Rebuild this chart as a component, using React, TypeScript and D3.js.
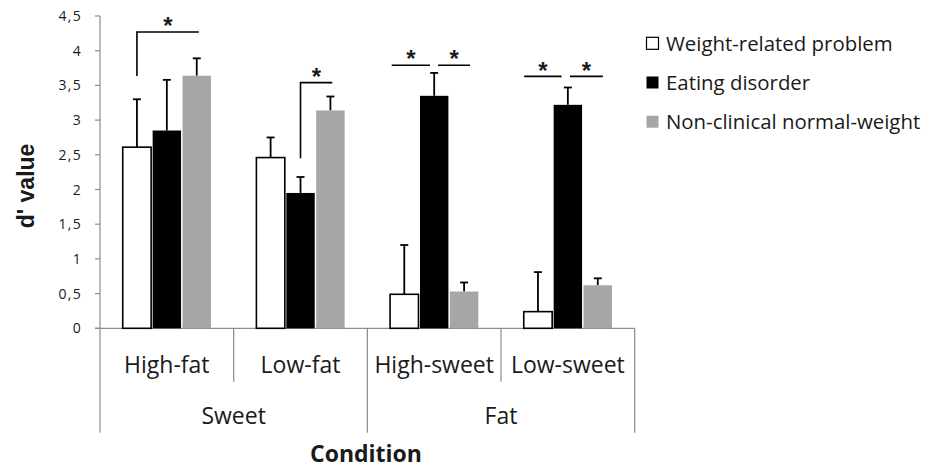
import React from "react";
import * as d3 from "d3";

const categories = ["High-fat", "Low-fat", "High-sweet", "Low-sweet"];
const groupLabels = ["Sweet", "Fat"];
const groupSizes = [2, 2];
const seriesNames = ["Weight-related problem", "Eating disorder", "Non-clinical normal-weight"];
const weightRelated = [2.61, 2.46, 0.49, 0.24];
const weightRelatedErr = [0.69, 0.29, 0.71, 0.57];
const eatingDisorder = [2.85, 1.95, 3.35, 3.22];
const eatingDisorderErr = [0.73, 0.23, 0.33, 0.25];
const nonClinical = [3.64, 3.14, 0.53, 0.62];
const nonClinicalErr = [0.25, 0.2, 0.13, 0.1];
const yTicks = [0, 0.5, 1, 1.5, 2, 2.5, 3, 3.5, 4, 4.5];
const yTickLabels = ["0", "0,5", "1", "1,5", "2", "2,5", "3", "3,5", "4", "4,5"];

// significance brackets: category, from/to (series position), level, drop (value where the left leg ends)
const brackets = [
  { cat: 0, from: 0, to: 2.07, level: 4.27, drop: 3.635 },
  { cat: 1, from: 1, to: 2.06, level: 3.54, drop: 2.45 },
];
// significance lines without legs
const sigLines = [
  { cat: 2, from: -0.42, to: 0.86, level: 3.79 },
  { cat: 2, from: 1.13, to: 2.2, level: 3.79 },
  { cat: 3, from: -0.46, to: 0.79, level: 3.63 },
  { cat: 3, from: 1.07, to: 2.17, level: 3.63 },
];

const W = 936;
const H = 471;
const fills = ["#ffffff", "#000000", "#a6a6a6"];
const axisColor = "#8c8c8c";
const textColor = "#1a1a1a";
const sansFont = "'Open Sans', Lato, sans-serif";

export default function App() {
  const values = [weightRelated, eatingDisorder, nonClinical];
  const errs = [weightRelatedErr, eatingDisorderErr, nonClinicalErr];

  const y = d3.scaleLinear().domain([0, 4.5]).range([328.3, 16]);
  const x = d3.scaleBand<string>().domain(categories).range([100, 634.7]).padding(0);
  const cw = x.bandwidth();
  const sub = d3
    .scaleBand<number>()
    .domain([0, 1, 2])
    .range([cw * 0.17, cw * 0.83])
    .paddingInner(0.05);
  const bw = sub.bandwidth();
  const step = sub.step();
  const posX = (cat: number, s: number) =>
    (x(categories[cat]) as number) + (sub(0) as number) + s * step + bw / 2;

  const y0 = y(0);
  const axisLeft = x.range()[0];
  const axisRight = x.range()[1];

  const groupBounds: { start: number; end: number; label: string }[] = [];
  let idx = 0;
  groupSizes.forEach((n, g) => {
    const start = x(categories[idx]) as number;
    const end = (x(categories[idx + n - 1]) as number) + cw;
    groupBounds.push({ start, end, label: groupLabels[g] });
    idx += n;
  });

  const starSize = 24;
  const star = (cx: number, lineY: number, key: string) => (
    <text
      key={key}
      x={cx}
      y={lineY - 11 + starSize * 0.55}
      textAnchor="middle"
      fontFamily="'Liberation Sans', Arial, sans-serif"
      fontWeight="bold"
      fontSize={starSize}
      fill={textColor}
    >
      *
    </text>
  );

  return (
    <svg
      width={W}
      height={H}
      style={{ position: "fixed", left: 0, top: 0, background: "#fff" }}
      xmlns="http://www.w3.org/2000/svg"
    >
      <rect x={0} y={0} width={W} height={H} fill="#fff" />

      {/* y axis */}
      <line x1={axisLeft} x2={axisLeft} y1={y(4.5)} y2={y0} stroke={axisColor} strokeWidth={1.2} />
      {yTicks.map((t, i) => (
        <g key={"yt" + i}>
          <line x1={axisLeft - 5} x2={axisLeft} y1={y(t)} y2={y(t)} stroke={axisColor} strokeWidth={1.2} />
          <text
            x={82}
            y={y(t)}
            dy="0.36em"
            textAnchor="end"
            fontFamily={sansFont}
            fontSize={14}
            letterSpacing={1.3}
            fill={textColor}
          >
            {yTickLabels[i]}
          </text>
        </g>
      ))}
      <text
        transform={`translate(34, 186) rotate(-90)`}
        textAnchor="middle"
        fontFamily="'Liberation Sans', Arial, sans-serif"
        fontWeight="bold"
        fontSize={23}
        fill={textColor}
      >
        d' value
      </text>

      {/* x axis */}
      <line x1={axisLeft - 5} x2={axisRight} y1={y0} y2={y0} stroke={axisColor} strokeWidth={1.2} />
      {categories.map((c, i) => {
        const cx = x(c) as number;
        return (
          <g key={"cat" + i}>
            {i % 2 === 1 && (
              <line x1={cx} x2={cx} y1={y0} y2={381.7} stroke={axisColor} strokeWidth={1.2} />
            )}
            <text
              x={cx + cw / 2}
              y={373.3}
              textAnchor="middle"
              fontFamily={sansFont}
              fontSize={23}
              fill={textColor}
            >
              {c}
            </text>
          </g>
        );
      })}
      {groupBounds.map((g, i) => (
        <g key={"grp" + i}>
          <line x1={g.start} x2={g.start} y1={y0} y2={432.7} stroke={axisColor} strokeWidth={1.2} />
          {i === groupBounds.length - 1 && (
            <line x1={g.end} x2={g.end} y1={y0} y2={432.7} stroke={axisColor} strokeWidth={1.2} />
          )}
          <text
            x={(g.start + g.end) / 2}
            y={424}
            textAnchor="middle"
            fontFamily={sansFont}
            fontSize={23}
            fill={textColor}
          >
            {g.label}
          </text>
        </g>
      ))}
      <text
        x={366}
        y={462}
        textAnchor="middle"
        fontFamily={sansFont}
        fontWeight="bold"
        fontSize={23}
        fill={textColor}
      >
        Condition
      </text>

      {/* bars */}
      {categories.map((c, ci) =>
        values.map((vals, si) => {
          const bx = (x(c) as number) + (sub(si) as number);
          const v = vals[ci];
          const top = y(v);
          const etop = y(v + errs[si][ci]);
          const cx = bx + bw / 2;
          return (
            <g key={`b${ci}-${si}`}>
              <line x1={cx} x2={cx} y1={top} y2={etop} stroke="#000" strokeWidth={1.8} />
              <line x1={cx - 4} x2={cx + 4} y1={etop} y2={etop} stroke="#000" strokeWidth={1.8} />
              <rect
                x={bx}
                y={top}
                width={bw}
                height={y0 - top}
                fill={fills[si]}
                stroke={si === 0 ? "#000" : "none"}
                strokeWidth={si === 0 ? 1.6 : 0}
              />
            </g>
          );
        })
      )}

      {/* significance */}
      {brackets.map((b, i) => {
        const x1 = posX(b.cat, b.from);
        const x2 = posX(b.cat, b.to);
        const ly = y(b.level);
        return (
          <g key={"br" + i}>
            <path
              d={`M${x1},${y(b.drop)}V${ly}H${x2}`}
              fill="none"
              stroke="#000"
              strokeWidth={1.6}
            />
            {star((x1 + x2) / 2, ly, "bs" + i)}
          </g>
        );
      })}
      {sigLines.map((s, i) => {
        const x1 = posX(s.cat, s.from);
        const x2 = posX(s.cat, s.to);
        const ly = y(s.level);
        return (
          <g key={"sl" + i}>
            <line x1={x1} x2={x2} y1={ly} y2={ly} stroke="#000" strokeWidth={1.6} />
            {star((x1 + x2) / 2, ly, "ss" + i)}
          </g>
        );
      })}

      {/* legend */}
      {seriesNames.map((name, i) => {
        const ly = 43.3 + i * 39.2;
        return (
          <g key={"lg" + i}>
            <rect
              x={646.5}
              y={ly - 6}
              width={12}
              height={12}
              fill={fills[i]}
              stroke={i === 0 ? "#000" : "none"}
              strokeWidth={1.2}
            />
            <text
              x={666}
              y={ly}
              dy="0.36em"
              fontFamily={sansFont}
              fontSize={20.4}
              fill={textColor}
            >
              {name}
            </text>
          </g>
        );
      })}
    </svg>
  );
}
